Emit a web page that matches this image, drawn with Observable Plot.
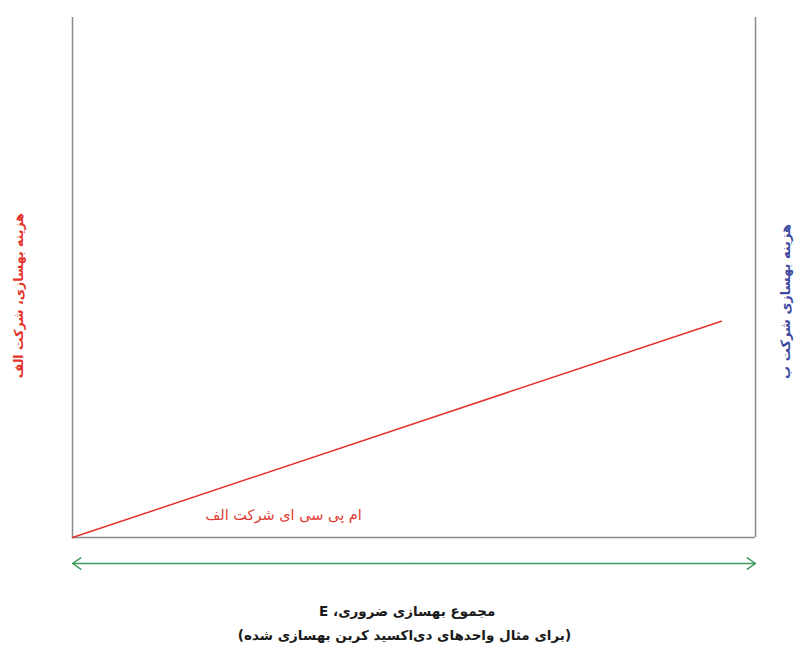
<!DOCTYPE html>
<html><head><meta charset="utf-8">
<script src="https://cdn.jsdelivr.net/npm/d3@7"></script>
<script src="https://cdn.jsdelivr.net/npm/@observablehq/plot@0.6"></script>
<style>body{margin:0;background:#fff;} svg{display:block;} svg text{direction:rtl;}</style>
</head><body><div id="chart"></div>
<script>
const mpcA = [{x: 0, y: 0}, {x: 95, y: 41.6}];
const frameX = [0, 100];
const mpcLabel = [{x: 30.9, y: 4.2, text: "ام پی سی ای شرکت الف"}];
const leftLabel = [{x: -7.9, y: 46.5, text: "هزینه بهسازی، شرکت الف"}];
const rightLabel = [{x: 104.4, y: 45.4, text: "هزینه بهسازی شرکت ب"}];
const xLabels = [
  {x: 49.0, y: -14.3, text: "مجموع بهسازی ضروری، E"},
  {x: 48.6, y: -18.9, text: "(برای مثال واحدهای دی‌اکسید کربن بهسازی شده)"}
];
const arrowY = -5;

const font = "DejaVu Sans";
const chart = Plot.plot({
  width: 810, height: 663,
  margin: 0,
  style: {fontFamily: font, background: "#fff"},
  x: {domain: [0, 100], range: [72, 755], axis: null},
  y: {domain: [0, 100], range: [537, 17], axis: null},
  marks: [
    Plot.ruleX(frameX, {y1: 0, y2: 100, stroke: "#8a8a8a", strokeWidth: 1.5}),
    Plot.ruleY([0], {x1: 0, x2: 100, stroke: "#8a8a8a", strokeWidth: 1.5}),
    Plot.line(mpcA, {x: "x", y: "y", stroke: "#e5332a", strokeWidth: 1.5}),
    Plot.arrow([{x1: 50, x2: 0}, {x1: 50, x2: 100}], {x1: "x1", x2: "x2", y1: arrowY, y2: arrowY, stroke: "#3d9a5c", strokeWidth: 1.5, headLength: 10, headAngle: 70, inset: 0}),
    Plot.text(mpcLabel, {x: "x", y: "y", text: "text", fill: "#e03a33", fontSize: 14.5, textAnchor: "middle"}),
    Plot.text(leftLabel, {x: "x", y: "y", text: "text", fill: "#e4332a", fontSize: 12.5, fontWeight: "bold", rotate: -90, textAnchor: "middle"}),
    Plot.text(rightLabel, {x: "x", y: "y", text: "text", fill: "#3b4a9e", fontSize: 13, fontWeight: "bold", rotate: -90, textAnchor: "middle"}),
    Plot.text(xLabels, {x: "x", y: "y", text: "text", fill: "#1a1a1a", fontSize: 13.5, fontWeight: "bold", textAnchor: "middle"})
  ]
});
document.getElementById("chart").appendChild(chart);
</script></body></html>
